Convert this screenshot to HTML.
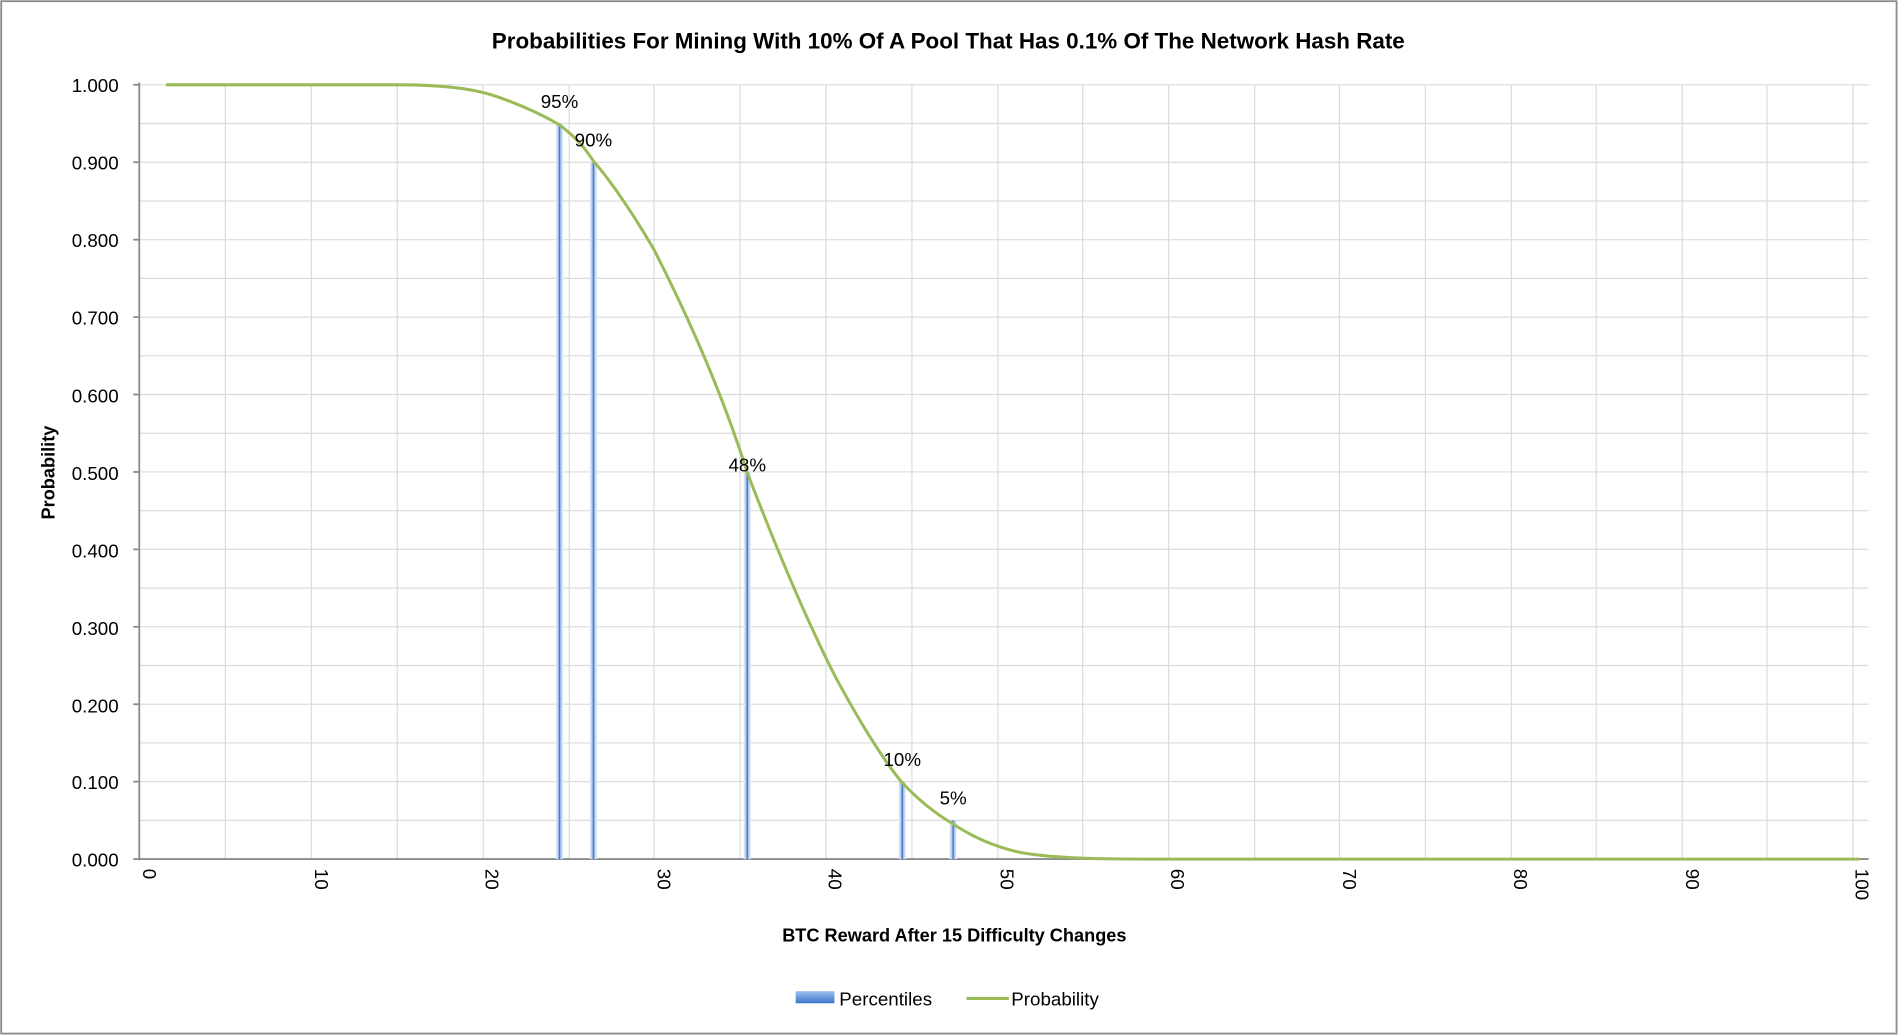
<!DOCTYPE html>
<html><head><meta charset="utf-8"><style>
html,body{margin:0;padding:0;background:#fff;}
svg{display:block;}
text{font-family:"Liberation Sans",sans-serif;fill:#000;}
</style></head><body>
<svg width="1899" height="1036" viewBox="0 0 1568 855" preserveAspectRatio="none" xmlns="http://www.w3.org/2000/svg">
<defs>
<linearGradient id="bar" x1="0" x2="1" y1="0" y2="0">
<stop offset="0" stop-color="#eef3fb"/><stop offset="0.35" stop-color="#a9c4ea"/><stop offset="0.5" stop-color="#2a66c2"/><stop offset="0.65" stop-color="#a9c4ea"/><stop offset="1" stop-color="#eef3fb"/>
</linearGradient>
<linearGradient id="leg" x1="0" x2="0" y1="0" y2="1">
<stop offset="0" stop-color="#9cc0f0"/><stop offset="1" stop-color="#3a75cc"/>
</linearGradient>
</defs>
<rect x="1" y="1" width="1565" height="852" fill="#fff" stroke="#8c8c8c" stroke-width="1.5"/>
<text x="783" y="40" font-size="18.5" font-weight="bold" text-anchor="middle">Probabilities For Mining With 10% Of A Pool That Has 0.1% Of The Network Hash Rate</text>
<g stroke="#dcdcdc" stroke-width="1">
<line x1="115" x2="1543" y1="70" y2="70"/><line x1="115" x2="1543" y1="101.95" y2="101.95"/><line x1="115" x2="1543" y1="133.9" y2="133.9"/><line x1="115" x2="1543" y1="165.85" y2="165.85"/><line x1="115" x2="1543" y1="197.8" y2="197.8"/><line x1="115" x2="1543" y1="229.75" y2="229.75"/><line x1="115" x2="1543" y1="261.7" y2="261.7"/><line x1="115" x2="1543" y1="293.65" y2="293.65"/><line x1="115" x2="1543" y1="325.6" y2="325.6"/><line x1="115" x2="1543" y1="357.55" y2="357.55"/><line x1="115" x2="1543" y1="389.5" y2="389.5"/><line x1="115" x2="1543" y1="421.45" y2="421.45"/><line x1="115" x2="1543" y1="453.4" y2="453.4"/><line x1="115" x2="1543" y1="485.35" y2="485.35"/><line x1="115" x2="1543" y1="517.3" y2="517.3"/><line x1="115" x2="1543" y1="549.25" y2="549.25"/><line x1="115" x2="1543" y1="581.2" y2="581.2"/><line x1="115" x2="1543" y1="613.15" y2="613.15"/><line x1="115" x2="1543" y1="645.1" y2="645.1"/><line x1="115" x2="1543" y1="677.05" y2="677.05"/>
<line x1="186" x2="186" y1="70" y2="709"/><line x1="257" x2="257" y1="70" y2="709"/><line x1="328" x2="328" y1="70" y2="709"/><line x1="399" x2="399" y1="70" y2="709"/><line x1="470" x2="470" y1="70" y2="709"/><line x1="540" x2="540" y1="70" y2="709"/><line x1="611" x2="611" y1="70" y2="709"/><line x1="682" x2="682" y1="70" y2="709"/><line x1="753" x2="753" y1="70" y2="709"/><line x1="824" x2="824" y1="70" y2="709"/><line x1="894" x2="894" y1="70" y2="709"/><line x1="965" x2="965" y1="70" y2="709"/><line x1="1036" x2="1036" y1="70" y2="709"/><line x1="1106" x2="1106" y1="70" y2="709"/><line x1="1177" x2="1177" y1="70" y2="709"/><line x1="1248" x2="1248" y1="70" y2="709"/><line x1="1318" x2="1318" y1="70" y2="709"/><line x1="1389" x2="1389" y1="70" y2="709"/><line x1="1459" x2="1459" y1="70" y2="709"/><line x1="1530" x2="1530" y1="70" y2="709"/>
</g>
<g stroke="#8c8c8c" stroke-width="1.5">
<line x1="115" x2="115" y1="68" y2="710"/><line x1="110" x2="1543" y1="709" y2="709"/>
<line x1="110" x2="115" y1="70" y2="70"/><line x1="110" x2="115" y1="133.9" y2="133.9"/><line x1="110" x2="115" y1="197.8" y2="197.8"/><line x1="110" x2="115" y1="261.7" y2="261.7"/><line x1="110" x2="115" y1="325.6" y2="325.6"/><line x1="110" x2="115" y1="389.5" y2="389.5"/><line x1="110" x2="115" y1="453.4" y2="453.4"/><line x1="110" x2="115" y1="517.3" y2="517.3"/><line x1="110" x2="115" y1="581.2" y2="581.2"/><line x1="110" x2="115" y1="645.1" y2="645.1"/>
</g>
<g font-size="15.5" text-anchor="end">
<text x="98" y="76">1.000</text><text x="98" y="140">0.900</text><text x="98" y="204">0.800</text><text x="98" y="268">0.700</text><text x="98" y="332">0.600</text><text x="98" y="396">0.500</text><text x="98" y="460">0.400</text><text x="98" y="524">0.300</text><text x="98" y="588">0.200</text><text x="98" y="651">0.100</text><text x="98" y="715">0.000</text>
</g>
<g font-size="15.5">
<text transform="translate(118,717) rotate(90)">0</text>
<text transform="translate(260,717) rotate(90)">10</text>
<text transform="translate(401,717) rotate(90)">20</text>
<text transform="translate(543,717) rotate(90)">30</text>
<text transform="translate(684,717) rotate(90)">40</text>
<text transform="translate(826,717) rotate(90)">50</text>
<text transform="translate(967,717) rotate(90)">60</text>
<text transform="translate(1109,717) rotate(90)">70</text>
<text transform="translate(1250,717) rotate(90)">80</text>
<text transform="translate(1392,717) rotate(90)">90</text>
<text transform="translate(1532,717) rotate(90)">100</text>
</g>
<text transform="translate(45,390) rotate(-90)" font-size="15" font-weight="bold" text-anchor="middle">Probability</text>
<text x="788" y="777" font-size="15" font-weight="bold" text-anchor="middle">BTC Reward After 15 Difficulty Changes</text>
<rect x="459" y="102" width="6" height="607" fill="url(#bar)"/>
<rect x="487" y="134" width="6" height="575" fill="url(#bar)"/>
<rect x="614" y="390" width="6" height="319" fill="url(#bar)"/>
<rect x="742" y="645" width="6" height="64" fill="url(#bar)"/>
<rect x="784" y="677" width="6" height="32" fill="url(#bar)"/>
<path fill="none" stroke="#9bbb59" stroke-width="2.5" stroke-linejoin="round" d="M137,70 L330,70 C360,70 385,72 405,78 C430,86 450,96 462,103 C475,113 483,122 490,133 C505,150 525,180 540,206 C565,255 595,320 617,390 C640,450 665,510 690,559 C710,596 730,628 745,646 C760,662 775,673 787,680 C805,692 825,700 845,704 C870,708 900,709 950,709 L1535,709"/>
<g font-size="15.5" text-anchor="middle">
<text x="462" y="89">95%</text><text x="490" y="121">90%</text><text x="617" y="389">48%</text><text x="745" y="632">10%</text><text x="787" y="664">5%</text>
</g>
<rect x="657" y="818" width="32" height="10" fill="url(#leg)"/>
<text x="693" y="830" font-size="15.5">Percentiles</text>
<line x1="798" x2="833" y1="824" y2="824" stroke="#9bbb59" stroke-width="2.5"/>
<text x="835" y="830" font-size="15.5">Probability</text>
</svg>
</body></html>
